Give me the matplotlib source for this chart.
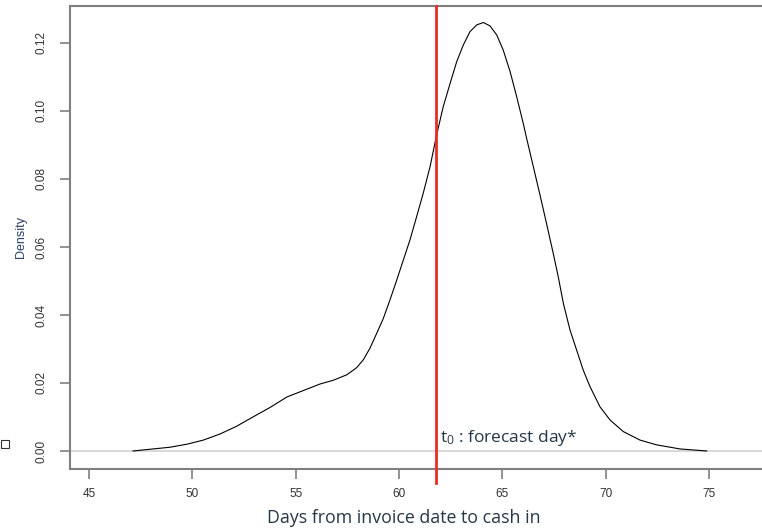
import matplotlib
matplotlib.use('Agg')
import matplotlib.pyplot as plt
from matplotlib.patches import Rectangle

# density curve
days = [47.13, 48.1, 48.92, 49.74, 50.53, 51.34, 52.15, 52.93, 53.76, 54.58,
        55.55, 56.18, 56.82, 57.47, 57.95, 58.27, 58.59, 58.92, 59.24, 59.56,
        59.89, 60.21, 60.53, 60.85, 61.17, 61.5, 61.82, 62.14, 62.47, 62.79,
        63.11, 63.43, 63.76, 64.08, 64.4, 64.72, 65.04, 65.37, 65.69, 66.01,
        66.17, 66.5, 66.83, 67.15, 67.46, 67.7, 67.95, 68.27, 68.59, 68.91,
        69.24, 69.72, 70.21, 70.85, 71.66, 72.46, 73.59, 74.88]
density = [0.0, 0.0006, 0.0011, 0.0020, 0.0032, 0.0050, 0.0073, 0.0100, 0.0128, 0.0159,
           0.0182, 0.0197, 0.0208, 0.0224, 0.0245, 0.0268, 0.0302, 0.0346, 0.0390, 0.0444,
           0.0503, 0.0562, 0.0621, 0.0689, 0.0758, 0.0836, 0.0930, 0.1013, 0.1081, 0.1145,
           0.1194, 0.1233, 0.1253, 0.1260, 0.1250, 0.1224, 0.1179, 0.1116, 0.1042, 0.0963,
           0.0920, 0.0835, 0.0750, 0.0665, 0.0581, 0.0513, 0.0434, 0.0356, 0.0297, 0.0238,
           0.0189, 0.0130, 0.0091, 0.0057, 0.0032, 0.0018, 0.0006, 0.0]
forecast_day = 61.8
x_ticks = [45, 50, 55, 60, 65, 70, 75]
y_ticks = [0.00, 0.02, 0.04, 0.06, 0.08, 0.10, 0.12]

text_color = '#253746'
spine_color = '#7f7f7f'

fig = plt.figure(figsize=(7.62, 5.28), dpi=100)
ax = fig.add_axes([70 / 762, 1 - 469 / 528, 1 - 70 / 762, (469 - 5.5) / 528])

ax.axhline(0, color='#d9d9d9', linewidth=1.5, zorder=1)
ax.plot(days, density, color='black', linewidth=0.8, zorder=2)
ax.plot([forecast_day, forecast_day], [-0.0094, 0.131], color='#ee2a24',
        linewidth=2.0, clip_on=False, zorder=3)

ax.set_xlim(44.08, 77.56)
ax.set_ylim(-0.0053, 0.131)

ax.set_xticks(x_ticks)
ax.set_xticklabels([str(t) for t in x_ticks])
ax.set_yticks(y_ticks)
ax.set_yticklabels(['%.2f' % t for t in y_ticks], rotation=90, va='center')
ax.tick_params(axis='both', direction='out', length=7, width=1.2, color=spine_color,
               labelsize=8.5, labelcolor='#333333', labelfontfamily='Liberation Sans')
ax.tick_params(axis='x', pad=7)
ax.tick_params(axis='y', pad=9)

for s in ['left', 'bottom', 'top']:
    ax.spines[s].set_color(spine_color)
    ax.spines[s].set_linewidth(1.5)
ax.spines['right'].set_visible(False)

ax.text(forecast_day + 0.18, 0.0010, r'$\mathregular{t_0}$ : forecast day*', fontsize=12.5,
        color=text_color, family='Open Sans', ha='left', va='bottom')

fig.text(404 / 762, 1 - 518 / 528, 'Days from invoice date to cash in', fontsize=12.8,
         color=text_color, family='Open Sans', ha='center', va='center')
fig.text(21 / 762, 1 - 237 / 528, 'Density', fontsize=9, color='#2a3f6a',
         rotation=90, ha='center', va='center', family='Liberation Sans')
fig.patches.append(Rectangle((1 / 762, 1 - 448 / 528), 8 / 762, 8 / 528,
                             transform=fig.transFigure, fill=False,
                             edgecolor='#333333', linewidth=0.8))

fig.savefig('out.png', dpi=100)
